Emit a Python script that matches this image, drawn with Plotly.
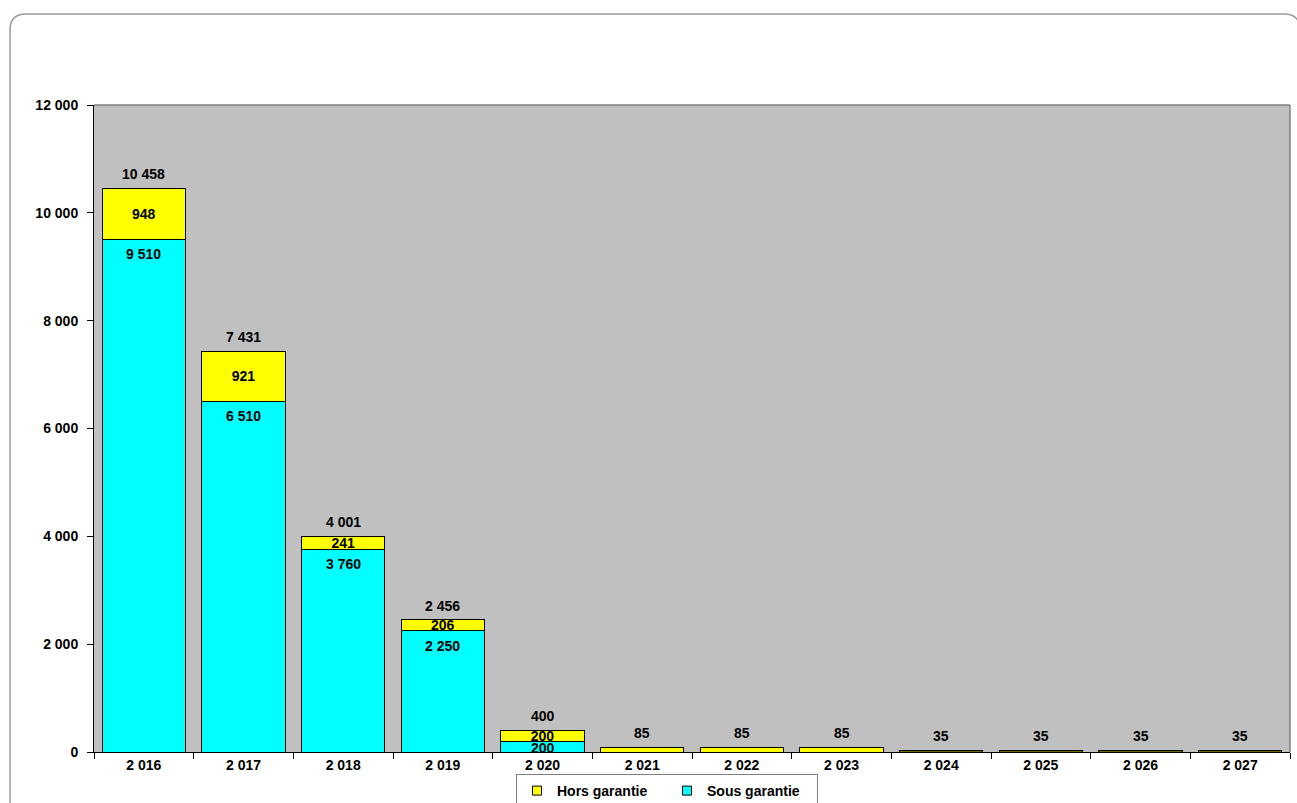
import plotly.graph_objects as go

# Yearly volumes, split by warranty status
years = [2016, 2017, 2018, 2019, 2020, 2021, 2022, 2023, 2024, 2025, 2026, 2027]
sous_garantie = [9510, 6510, 3760, 2250, 200, 0, 0, 0, 0, 0, 0, 0]
hors_garantie = [948, 921, 241, 206, 200, 85, 85, 85, 35, 35, 35, 35]
hors_colors = ["#FFFF00"] * 8 + ["#6E6A00"] * 4

def fmt(v):
    return f"{v:,}".replace(",", " ")

year_labels = [fmt(y) for y in years]
totals = [s + h for s, h in zip(sous_garantie, hors_garantie)]

W, H = 1297, 803
L, R, T, B = 94, 7, 105, 51
PW, PH = W - L - R, H - T - B
Y_MAX = 12000

def px(x):
    return (x - L) / PW

def py(y):
    return (H - B - y) / PH

FONT = dict(family="Liberation Sans, Arial, sans-serif", size=14, color="black", weight="bold")

fig = go.Figure()

fig.add_trace(go.Bar(
    x=year_labels, y=sous_garantie, name="Sous garantie",
    marker=dict(color="#00FFFF", line=dict(color="black", width=1)),
    showlegend=False,
))
fig.add_trace(go.Bar(
    x=year_labels, y=hors_garantie, name="Hors garantie",
    marker=dict(color=hors_colors, line=dict(color="black", width=1)),
    text=[fmt(h) if s else "" for s, h in zip(sous_garantie, hors_garantie)],
    textposition="inside", insidetextanchor="middle",
    textfont=FONT, showlegend=False,
))

# Legend entries with small square swatches
for name, col in [("Hors garantie", "#FFFF00"), ("Sous garantie", "#00FFFF")]:
    fig.add_trace(go.Scatter(
        x=[None], y=[None], mode="markers", name=name,
        marker=dict(symbol="square", size=9, color=col, line=dict(color="black", width=1)),
    ))

annotations = []
# Totals above each stack
for yl, t in zip(year_labels, totals):
    annotations.append(dict(x=yl, y=t, text=fmt(t), showarrow=False, yanchor="bottom",
                            yshift=4, font=FONT, xref="x", yref="y"))
# "Sous garantie" values just inside the top of the cyan segment,
# centred in the segment when it is too short to hold the text
for yl, s in zip(year_labels, sous_garantie):
    if not s:
        continue
    seg_px = s / Y_MAX * PH
    if seg_px > 30:
        annotations.append(dict(x=yl, y=s, text=fmt(s), showarrow=False, yanchor="top",
                                yshift=-5, font=FONT, xref="x", yref="y"))
    else:
        annotations.append(dict(x=yl, y=s / 2, text=fmt(s), showarrow=False, yanchor="middle",
                                yshift=-1, font=FONT, xref="x", yref="y"))

# Rounded outer frame and the grey top/right edges of the plot area
frame = (f"M {px(10)},{py(830)} L {px(10)},{py(30)} Q {px(10)},{py(14)} {px(26)},{py(14)} "
         f"L {px(1284)},{py(14)} Q {px(1300)},{py(14)} {px(1300)},{py(30)} L {px(1300)},{py(830)}")
shapes = [
    dict(type="path", path=frame, xref="paper", yref="paper",
         line=dict(color="#9A9A9A", width=1.5), layer="below"),
    dict(type="line", xref="paper", yref="paper", x0=0, x1=1, y0=1, y1=1,
         line=dict(color="#808080", width=1.5)),
    dict(type="line", xref="paper", yref="paper", x0=1, x1=1, y0=0, y1=1,
         line=dict(color="#808080", width=1.5)),
]

fig.update_layout(
    width=W, height=H,
    margin=dict(l=L, r=R, t=T, b=B, autoexpand=False),
    barmode="stack", bargap=0.165,
    plot_bgcolor="#C0C0C0", paper_bgcolor="white",
    separators=", ",
    font=FONT,
    uniformtext=dict(minsize=14, mode="show"),
    annotations=annotations,
    shapes=shapes,
    legend=dict(
        orientation="h", x=px(667), xanchor="center", y=py(774), yanchor="top",
        bgcolor="white", bordercolor="#808080", borderwidth=1,
        font=FONT, entrywidth=105, itemwidth=30,
        traceorder="normal",
    ),
    xaxis=dict(
        type="category", tickson="boundaries", ticks="outside", ticklen=6,
        tickcolor="black", showline=True, linecolor="black", linewidth=1,
        showgrid=False, tickfont=FONT, automargin=False,
    ),
    yaxis=dict(
        range=[0, Y_MAX], dtick=2000, tickformat=",d", ticks="outside", ticklen=6,
        tickcolor="black", showline=True, linecolor="black", linewidth=1,
        showgrid=False, zeroline=False, tickfont=FONT, automargin=False,
        ticklabelstandoff=6,
    ),
)

fig.write_html("out.html")
